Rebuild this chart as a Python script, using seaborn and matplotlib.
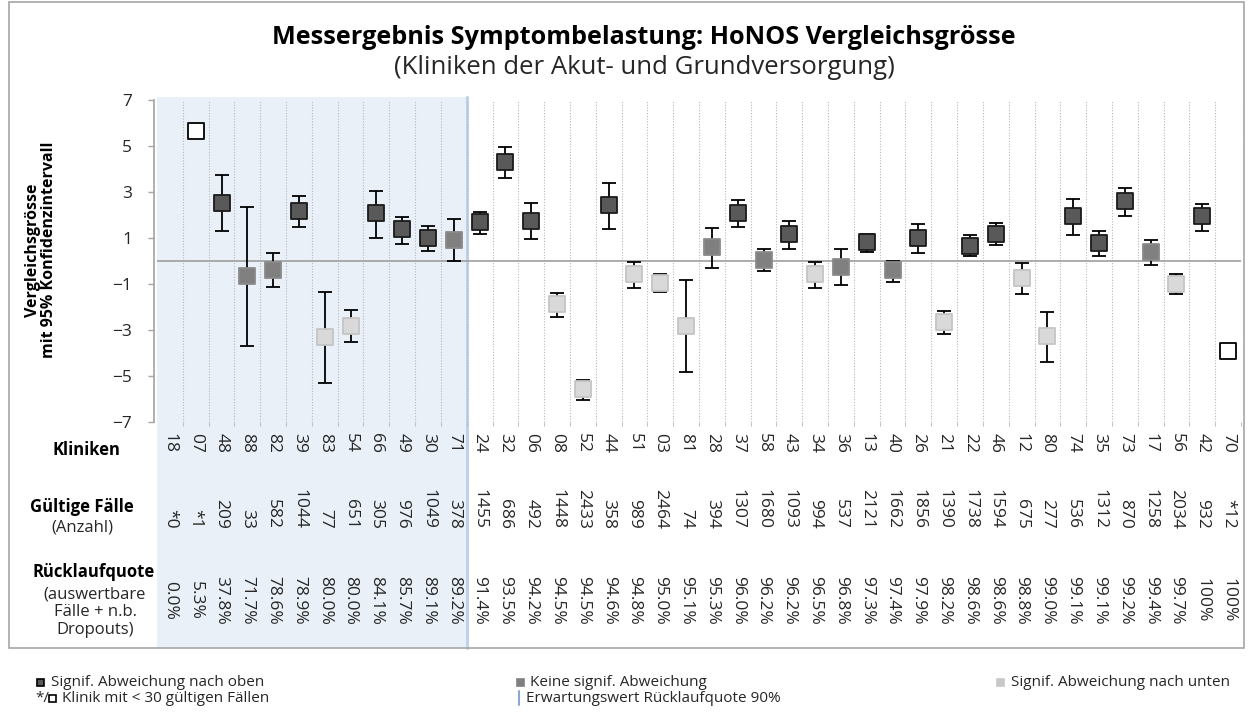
import numpy as np
import pandas as pd
import matplotlib
matplotlib.use("Agg")
import matplotlib.pyplot as plt
import seaborn as sns
from matplotlib.patches import Rectangle
from matplotlib.lines import Line2D
from matplotlib.transforms import blended_transform_factory

# Kliniken in Reihenfolge der Ruecklaufquote
kliniken = ["18", "07", "48", "88", "82", "39", "83", "54", "66", "49", "30", "71",
            "24", "32", "06", "08", "52", "44", "51", "03", "81", "28", "37", "58",
            "43", "34", "36", "13", "40", "26", "21", "22", "46", "12", "80", "74",
            "35", "73", "17", "56", "42", "70"]
faelle = ["*0", "*1", "209", "33", "582", "1044", "77", "651", "305", "976", "1049", "378",
          "1455", "686", "492", "1448", "2433", "358", "989", "2464", "74", "394", "1307", "1680",
          "1093", "994", "537", "2121", "1662", "1856", "1390", "1738", "1594", "675", "277", "536",
          "1312", "870", "1258", "2034", "932", "*12"]
quote = ["0.0%", "5.3%", "37.8%", "71.7%", "78.6%", "78.9%", "80.0%", "80.0%", "84.1%", "85.7%",
         "89.1%", "89.2%", "91.4%", "93.5%", "94.2%", "94.5%", "94.5%", "94.6%", "94.8%", "95.0%",
         "95.1%", "95.3%", "96.0%", "96.2%", "96.2%", "96.5%", "96.8%", "97.3%", "97.4%", "97.9%",
         "98.2%", "98.6%", "98.6%", "98.8%", "99.0%", "99.1%", "99.1%", "99.2%", "99.4%", "99.7%",
         "100%", "100%"]

# Vergleichsgroesse und 95%-Konfidenzintervall
wert = [np.nan, 5.65, 2.53, -0.65, -0.39, 2.17, -3.32, -2.81, 2.07, 1.38, 1.01, 0.91,
        1.68, 4.29, 1.75, -1.88, -5.58, 2.42, -0.58, -0.94, -2.81, 0.59, 2.09, 0.04,
        1.17, -0.58, -0.25, 0.81, -0.39, 1.00, -2.67, 0.67, 1.19, -0.75, -3.28, 1.96,
        0.78, 2.59, 0.39, -1.00, 1.94, -3.93]
ci_oben = [np.nan, np.nan, 3.74, 2.36, 0.36, 2.84, -1.33, -2.12, 3.06, 1.90, 1.54, 1.81,
           2.12, 4.96, 2.54, -1.38, -5.17, 3.41, -0.06, -0.55, -0.84, 1.45, 2.65, 0.51,
           1.74, -0.06, 0.52, 1.17, 0.00, 1.61, -2.16, 1.12, 1.67, -0.07, -2.20, 2.70,
           1.30, 3.17, 0.91, -0.58, 2.49, np.nan]
ci_unten = [np.nan, np.nan, 1.30, -3.68, -1.15, 1.46, -5.32, -3.52, 1.01, 0.72, 0.43, 0.01,
            1.17, 3.59, 0.94, -2.43, -6.04, 1.39, -1.17, -1.35, -4.83, -0.30, 1.48, -0.43,
            0.54, -1.17, -1.04, 0.41, -0.90, 0.35, -3.19, 0.22, 0.70, -1.45, -4.39, 1.14,
            0.23, 1.94, -0.16, -1.45, 1.29, np.nan]
gruppe = ["leer", "klein", "oben", "keine", "keine", "oben", "unten", "unten", "oben", "oben", "oben", "keine",
          "oben", "oben", "oben", "unten", "unten", "oben", "unten", "unten", "unten", "keine", "oben", "keine",
          "oben", "unten", "keine", "oben", "keine", "oben", "unten", "oben", "oben", "unten", "unten", "oben",
          "oben", "oben", "keine", "unten", "oben", "klein"]

W, H = 1252, 712
df = pd.DataFrame({"pos": np.arange(len(kliniken)), "klinik": kliniken, "wert": wert,
                   "ci_oben": ci_oben, "ci_unten": ci_unten, "gruppe": gruppe})

sns.set_theme(style="white")
plt.rcParams["font.family"] = ["Open Sans", "DejaVu Sans"]
txt = "#262626"

fig = plt.figure(figsize=(W / 100, H / 100), dpi=100)
ax = fig.add_axes([157 / W, 1 - 422 / H, (1241 - 157) / W, 322 / H])
ax.patch.set_visible(False)

def fy(py):
    return 1 - py / H

# shaded area for clinics below 90% return rate
fig.patches.append(Rectangle((157 / W, fy(648)), (466 - 157) / W, (648 - 97) / H,
                             transform=fig.transFigure, facecolor="#e9f0f8",
                             edgecolor="none", zorder=-2))
fig.lines.append(Line2D([466.5 / W, 466.5 / W], [fy(97), fy(648)], transform=fig.transFigure,
                        color="#bcd2ee", lw=2.2, zorder=-1))
# outer frame
fig.patches.append(Rectangle((9 / W, fy(648)), (1244 - 9) / W, (648 - 2) / H,
                             transform=fig.transFigure, fill=False,
                             edgecolor="#a6a6a6", lw=1.2, zorder=-1))

# grid lines between clinics (+ short ticks below the axis)
grenzen = np.arange(len(kliniken)) + 0.5
ax.vlines(grenzen, -7, 7, colors="#b8b8b8", linestyles=(0, (1, 1.5)), lw=0.8, zorder=1)
ax.vlines(grenzen, -7.18, -7, colors="#bfbfbf", lw=0.8, zorder=1, clip_on=False)
ax.axhline(0, color="#9e9e9e", lw=1.2, zorder=1)

# confidence intervals
ci = df.dropna(subset=["ci_oben"])
ax.errorbar(ci["pos"], ci["wert"], yerr=[ci["wert"] - ci["ci_unten"], ci["ci_oben"] - ci["wert"]],
            fmt="none", ecolor="black", elinewidth=1.3, capsize=4.8, capthick=1.3, zorder=2)

stil = {
    "oben": ("#595959", "#1a1a1a"),
    "keine": ("#808080", "#8a8a8a"),
    "unten": ("#d9d9d9", "#c4c4c4"),
    "klein": ("white", "black"),
}
for g, (fc, ec) in stil.items():
    sub = df[df["gruppe"] == g]
    sns.scatterplot(data=sub, x="pos", y="wert", marker="s", s=145, color=fc,
                    edgecolor=ec, linewidth=1.3, ax=ax, zorder=3, legend=False)

ax.set_xlim(-0.5, len(kliniken) - 0.5)
ax.set_ylim(-7, 7)
ax.set_yticks([-7, -5, -3, -1, 1, 3, 5, 7])
ax.set_xticks([])
ax.set_xlabel("")
ax.set_ylabel("")
for s in ["top", "right", "bottom"]:
    ax.spines[s].set_visible(False)
ax.spines["left"].set_color("#a6a6a6")
ax.spines["left"].set_position(("outward", 2))
ax.tick_params(axis="y", length=4, width=1, color="#a6a6a6", labelsize=12.5, labelcolor=txt, pad=12, left=True)

# table below the chart
fs = 12.5
tr = blended_transform_factory(ax.transData, fig.transFigure)
for i in range(len(kliniken)):
    ax.text(i, fy(443), kliniken[i], transform=tr, rotation=-90, rotation_mode="anchor",
            ha="center", va="center", fontsize=fs, color=txt)
    ax.text(i, fy(529), faelle[i], transform=tr, rotation=-90, rotation_mode="anchor",
            ha="right", va="center", fontsize=fs, color=txt)
    ax.text(i, fy(600), quote[i], transform=tr, rotation=-90, rotation_mode="anchor",
            ha="center", va="center", fontsize=fs, color=txt)

fig.text(86 / W, fy(450), "Kliniken", ha="center", va="center", fontsize=12, fontweight="bold", color="black")
fig.text(82 / W, fy(507), "Gültige Fälle", ha="center", va="center", fontsize=12, fontweight="bold", color="black")
fig.text(82 / W, fy(528), "(Anzahl)", ha="center", va="center", fontsize=12, color=txt)
fig.text(94 / W, fy(572), "Rücklaufquote", ha="center", va="center", fontsize=12, fontweight="bold", color="black")
fig.text(95 / W, fy(612), "(auswertbare\nFälle + n.b.\nDropouts)", ha="center", va="center",
         fontsize=12, color=txt, linespacing=1.15)

# y axis label
fig.text(41 / W, fy(250), "Vergleichsgrösse\nmit 95% Konfidenzintervall", rotation=90,
         ha="center", va="center", fontsize=11.5, fontweight="bold", color="black", linespacing=1.05)

# title
fig.text(644 / W, fy(37), "Messergebnis Symptombelastung: HoNOS Vergleichsgrösse",
         ha="center", va="center", fontsize=18.2, fontweight="bold", color="black")
fig.text(644 / W, fy(68), "(Kliniken der Akut- und Grundversorgung)",
         ha="center", va="center", fontsize=18.5, color=txt)

# legend
def quadrat(px, py, fc, ec):
    fig.patches.append(Rectangle((px / W, fy(py + 4)), 7 / W, 7 / H, transform=fig.transFigure,
                                 facecolor=fc, edgecolor=ec, lw=1.2))

lf = 11
quadrat(37, 682, "#595959", "black")
fig.text(51 / W, fy(682), "Signif. Abweichung nach oben", va="center", fontsize=lf, color=txt)
fig.text(35 / W, fy(698), "*/", va="center", fontsize=lf, color=txt)
quadrat(49, 698, "white", "black")
fig.text(62 / W, fy(698), "Klinik mit < 30 gültigen Fällen", va="center", fontsize=lf, color=txt)
quadrat(517, 682, "#808080", "#808080")
fig.text(530 / W, fy(682), "Keine signif. Abweichung", va="center", fontsize=lf, color=txt)
fig.lines.append(Line2D([519 / W, 519 / W], [fy(691), fy(705)], transform=fig.transFigure,
                        color="#8ea9cf", lw=1.5))
fig.text(526 / W, fy(698), "Erwartungswert Rücklaufquote 90%", va="center", fontsize=lf, color=txt)
quadrat(997, 682, "#c8c8c8", "#c8c8c8")
fig.text(1011 / W, fy(682), "Signif. Abweichung nach unten", va="center", fontsize=lf, color=txt)

fig.savefig("out.png", dpi=100)
